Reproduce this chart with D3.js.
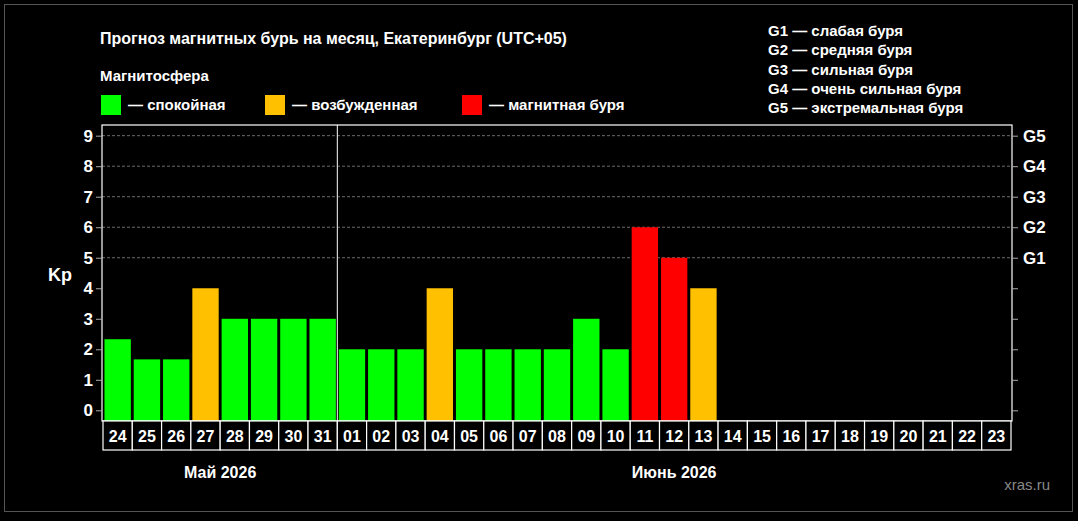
<!DOCTYPE html>
<html><head><meta charset="utf-8">
<script src="https://cdn.jsdelivr.net/npm/d3@7"></script>
<style>body{margin:0;background:#000}svg{display:block;font-family:"Liberation Sans",Arial,sans-serif}</style>
</head><body><svg id="c" width="1078" height="521"></svg>
<script>
const days = ["24","25","26","27","28","29","30","31","01","02","03","04","05","06","07","08","09","10","11","12","13","14","15","16","17","18","19","20","21","22","23"];
const kp = [2.33,1.67,1.67,4,3,3,3,3,2,2,2,4,2,2,2,2,3,2,6,5,4,null,null,null,null,null,null,null,null,null,null];
const yTicks = [0,1,2,3,4,5,6,7,8,9];
const gLabels = ["G1","G2","G3","G4","G5"];
const gLegend = ["G1 — слабая буря","G2 — средняя буря","G3 — сильная буря","G4 — очень сильная буря","G5 — экстремальная буря"];
const legendItems = [["#00ff00","— спокойная"],["#ffc000","— возбужденная"],["#ff0000","— магнитная буря"]];
const months = [["Май 2026","24","31"],["Июнь 2026","01","23"]];
const colorOf = v => v >= 5 ? "#ff0000" : v >= 4 ? "#ffc000" : "#00ff00";

const svg = d3.select("#c");
svg.append("rect").attr("x",4.5).attr("y",4.5).attr("width",1068).attr("height",507).attr("fill","none").attr("stroke","#555");
const L=102,R=1012,T=125,B=421;
const x = d3.scaleBand().domain(days).range([L+1,R-1]).paddingInner(0.1).paddingOuter(0.05);
const xc = d3.scaleBand().domain(days).range([L+1,R-1]);
const y = d3.scaleLinear().domain([-0.35,9.35]).range([B,T]);

svg.append("text").attr("x",100).attr("y",44).attr("fill","#fff").attr("font-weight","bold").attr("font-size",16).text("Прогноз магнитных бурь на месяц, Екатеринбург (UTC+05)");
svg.append("text").attr("x",100).attr("y",81).attr("fill","#fff").attr("font-weight","bold").attr("font-size",15).text("Магнитосфера");
const lx=[101,265,462];
legendItems.forEach((d,i)=>{
  svg.append("rect").attr("x",lx[i]).attr("y",95).attr("width",20).attr("height",20).attr("fill",d[0]);
  svg.append("text").attr("x",lx[i]+27).attr("y",110).attr("fill","#fff").attr("font-weight","bold").attr("font-size",15).text(d[1]);
});
gLegend.forEach((t,i)=>svg.append("text").attr("x",768).attr("y",36+i*19.3).attr("fill","#fff").attr("font-weight","bold").attr("font-size",15).text(t));

// grid
svg.append("g").selectAll("line").data(yTicks.filter(v=>v>=5)).join("line")
 .attr("x1",L).attr("x2",R).attr("y1",d=>y(d)).attr("y2",d=>y(d)).attr("stroke","#888").attr("stroke-dasharray","3,2").attr("stroke-width",0.8);
// bars
svg.append("g").selectAll("rect").data(days.map((d,i)=>({d,v:kp[i]})).filter(o=>o.v!=null)).join("rect")
 .attr("x",o=>x(o.d)).attr("width",x.bandwidth()).attr("y",o=>y(o.v)).attr("height",o=>B-y(o.v)).attr("fill",o=>colorOf(o.v));
// frame
svg.append("rect").attr("x",L).attr("y",T).attr("width",R-L).attr("height",B-T).attr("fill","none").attr("stroke","#fff").attr("stroke-width",1.2);
svg.append("line").attr("x1",xc("01")).attr("x2",xc("01")).attr("y1",T).attr("y2",B).attr("stroke","#fff");
// left axis
const ya = svg.append("g").attr("transform",`translate(${L},0)`).call(d3.axisLeft(y).tickValues(yTicks).tickSize(6).tickPadding(3));
ya.select(".domain").remove();
ya.selectAll("line").attr("stroke","#aaa");
ya.selectAll("text").attr("fill","#fff").attr("font-size",17).attr("font-weight","bold").attr("font-family","Liberation Sans, Arial");
const yr = svg.append("g").attr("transform",`translate(${R},0)`).call(d3.axisRight(y).tickValues(yTicks).tickSize(6).tickPadding(5).tickFormat(v=>v>=5?gLabels[v-5]:""));
yr.select(".domain").remove();
yr.selectAll("line").attr("stroke","#aaa");
yr.selectAll("text").attr("fill","#fff").attr("font-size",17).attr("font-weight","bold").attr("font-family","Liberation Sans, Arial");
svg.append("text").attr("x",60).attr("y",281).attr("text-anchor","middle").attr("fill","#fff").attr("font-weight","bold").attr("font-size",18).text("Kp");
// day boxes
const dg = svg.append("g").selectAll("g").data(days).join("g");
dg.append("rect").attr("x",d=>xc(d)).attr("y",B).attr("width",xc.bandwidth()).attr("height",29).attr("fill","#000").attr("stroke","#fff").attr("stroke-width",1.2);
dg.append("text").attr("x",d=>xc(d)+xc.bandwidth()/2).attr("y",B+21).attr("text-anchor","middle").attr("fill","#fff").attr("font-weight","bold").attr("font-size",16).text(d=>d);
months.forEach(m=>{
  const a=xc(m[1]), b=xc(m[2])+xc.bandwidth();
  svg.append("text").attr("x",(a+b)/2).attr("y",478).attr("text-anchor","middle").attr("fill","#fff").attr("font-weight","bold").attr("font-size",16).text(m[0]);
});
svg.append("text").attr("x",1050).attr("y",490).attr("text-anchor","end").attr("fill","#888").attr("font-size",15).text("xras.ru");
</script></body></html>
